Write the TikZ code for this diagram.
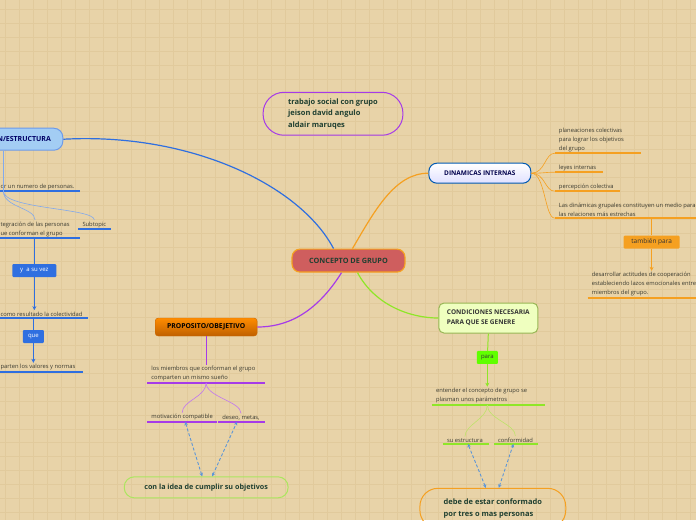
\documentclass[tikz,border=0pt]{standalone}
\usepackage{fontspec}
\setmainfont{Open Sans}
\usepackage{xcolor}
\definecolor{paper}{HTML}{E8D3A8}
\definecolor{gridc}{HTML}{E1CA9C}
\definecolor{ink}{HTML}{1F3F30}
\definecolor{leafink}{HTML}{3A3A30}
\definecolor{bluec}{HTML}{2F6FE0}
\definecolor{orgfill}{HTML}{A3CDF4}
\definecolor{orangec}{HTML}{F5A021}
\definecolor{greenc}{HTML}{8FE628}
\definecolor{bracegreen}{HTML}{BEE36A}
\definecolor{purplec}{HTML}{A63BE8}
\definecolor{dashc}{HTML}{5B95D8}
\definecolor{conceptc}{HTML}{CF5E5E}
\usetikzlibrary{arrows.meta, calc}

\begin{document}
\begin{tikzpicture}[x=1pt, y=-1pt]
    \tikzstyle{gridline}=[draw=gridc, line width=0.8pt]
    \tikzstyle{leaf}=[anchor=south west, align=left, inner xsep=4pt, inner ysep=1.5pt,
                      font=\fontsize{5.8}{9}\selectfont, text=leafink]
    \tikzstyle{pill}=[draw, line width=1pt, rounded corners=10pt, align=left,
                      font=\fontsize{7.5}{11.5}\selectfont\bfseries, text=ink]
    \tikzstyle{linkbox}=[rounded corners=1pt, inner sep=0pt, minimum height=13pt,
                         font=\fontsize{6}{7}\selectfont]
    \tikzstyle{arr}=[-{Stealth[length=4pt, width=4pt]}, line width=1pt]
    \tikzstyle{dashlink}=[{Stealth[length=3.5pt, width=3.5pt]}-{Stealth[length=3.5pt, width=3.5pt]},
                      dash pattern=on 3pt off 2pt, line width=0.9pt, draw=dashc]
    \tikzstyle{fan}=[line width=0.6pt]
    \tikzstyle{ul}=[line width=1.6pt]

    % background
    \fill[paper] (0,0) rectangle (696,520);
    \foreach \gx in {5,19,...,695} \draw[gridline] (\gx,0) -- (\gx,520);
    \foreach \gy in {9,23,...,519} \draw[gridline] (0,\gy) -- (696,\gy);
    \useasboundingbox (0,0) rectangle (696,520);

    % central topic
    \node[draw=orangec, fill=conceptc, line width=1.2pt, rounded corners=8pt,
          minimum width=113pt, minimum height=23pt, text=ink,
          font=\fontsize{7.3}{9}\selectfont\bfseries] (concept) at (348.5,260.5) {CONCEPTO DE GRUPO};

    \node[pill, draw=purplec, rounded corners=21pt, minimum width=140pt, minimum height=43pt,
          inner xsep=19pt] (note) at (333,113.5) {trabajo social con grupo\\jeison david angulo\\aldair maruqes};

    % left branch
    \node[draw=bluec!70, fill=orgfill, line width=1pt, rounded corners=9pt, anchor=east,
          minimum height=22pt, inner xsep=12pt, text=blue!40!black,
          font=\fontsize{7}{9}\selectfont\bfseries] (orgbox) at (63,139) {N/ESTRUCTURA};
    \draw[bluec, line width=1.2pt] (orgbox.east) .. controls (190,132) and (300,185) .. ($(concept.north)+(-15,0)$);

    \node[leaf] (l1) at (-4,191) {or un numero de personas.};
    \node[leaf] (l2) at (-4,238) {tegración de las personas\\ue conforman el grupo};
    \node[leaf] (l3) at (78,229) {Subtopic};
    \node[leaf] (l4) at (-4,318) {como resultado la colectividad};
    \node[leaf] (l5) at (-4,372) {parten los valores y normas};
    \draw[ul, bluec] (l1.south west) -- ++(84,0);
    \draw[ul, bluec] (l2.south west) -- ++(84,0);
    \draw[ul, bluec] (l3.south west) -- ++(33,0);
    \draw[ul, bluec] (l4.south west) -- ++(92,0);
    \draw[ul, bluec] (l5.south west) -- ++(87,0);
    \coordinate (lt) at (3,191);
    \draw[bluec!60, line width=1.5pt] (lt |- orgbox.south) -- (lt);
    \draw[fan, bluec!60] (lt) .. controls +(0,16) and +(0,-12) .. (l2.north);
    \draw[fan, bluec!60] (lt) .. controls +(0,18) and +(0,-12) .. (l3.north);

    \node[linkbox, fill=bluec, text=white, minimum width=44pt] (yv) at (34,270.5) {y~ a su vez};
    \draw[bluec, line width=1pt] (yv |- l2.south) -- (yv);
    \draw[arr, bluec] (yv) -- (yv |- l4.north);
    \node[linkbox, fill=bluec, text=white, minimum width=21pt] (qu) at (33,336.5) {que};
    \draw[bluec, line width=1pt] (qu |- l4.south) -- (qu);
    \draw[arr, bluec] (qu) -- (qu |- l5.north);

    % dinamicas internas
    \node[draw=blue!50!cyan!70!black, top color=white, bottom color=blue!12, line width=1pt,
          rounded corners=8pt, minimum width=102pt, minimum height=20pt, text=blue!30!black,
          font=\fontsize{6.5}{8}\selectfont\bfseries] (din) at (480,173) {DINAMICAS INTERNAS};
    \draw[orangec, line width=1.2pt] ($(concept.north)+(4,0)$) .. controls (375,210) and (395,173) .. (din.west);

    \node[leaf] (la) at (555,153) {planeaciones colectivas\\para lograr los objetivos\\del grupo};
    \node[leaf] (lb) at (555,172) {leyes internas};
    \node[leaf] (lc) at (555,191) {percepción colectiva};
    \node[leaf] (ld) at (555,218) {Las dinámicas grupales constituyen un medio para\\las relaciones más estrechas};
    \node[leaf] (le) at (588,298) {desarrollar actitudes de cooperación\\estableciendo lazos emocionales entre los\\miembros del grupo.};
    \draw[ul, orangec] (la.south west) -- ++(86,0);
    \draw[ul, orangec] (lb.south west) -- ++(48,0);
    \draw[ul, orangec] (lc.south west) -- ++(65,0);
    \draw[ul, orangec] (ld.south west) -- ++(150,0);
    \draw[ul, orangec] (le.south west) -- ++(120,0);
    \foreach \leafname in {la,lb,lc,ld}
        \draw[fan, orangec] (din.east) .. controls +(14,0) and +(-10,0) .. (\leafname.south west);

    \node[linkbox, fill=orangec, text=black!80, minimum width=56pt,
          font=\fontsize{6.5}{8}\selectfont] (tp) at (652,242) {también para};
    \draw[orangec, line width=1pt] (tp |- ld.south) -- (tp);
    \draw[arr, orangec] (tp) -- (tp |- le.north);

    % condiciones
    \node[draw=bracegreen!80!black, fill=lime!25!white, line width=1pt, rounded corners=5pt,
          minimum width=99pt, minimum height=30pt, align=left, text=black!80,
          font=\fontsize{6.5}{10}\selectfont\bfseries] (cond) at (488.5,318) {CONDICIONES NECESARIA\\PARA QUE SE GENERE};
    \draw[greenc, line width=1.2pt] ($(concept.south)+(9,0)$) .. controls (375,305) and (410,318) .. (cond.west);

    \node[leaf] (lf) at (432,405) {entender el concepto de grupo se\\plasman unos parámetros};
    \node[leaf] (lg) at (443,444) {su estructura};
    \node[leaf] (lh) at (494,444) {conformidad};
    \draw[ul, greenc] (lf.south west) -- ++(113,0);
    \draw[ul, greenc] (lg.south west) -- ++(46,0);
    \draw[ul, greenc] (lh.south west) -- ++(44,0);

    \node[linkbox, fill=green!50!lime, text=black!80, minimum width=21pt] (pa) at (487.5,357.5) {para};
    \draw[greenc, line width=1pt] (cond.south) -- (pa);
    \draw[arr, greenc] (pa) -- (pa |- lf.north);
    \draw[fan, bracegreen] (pa |- lf.south) .. controls +(0,14) and +(0,-12) .. (lg.north);
    \draw[fan, bracegreen] (pa |- lf.south) .. controls +(0,14) and +(0,-12) .. (lh.north);

    \node[pill, draw=orangec, rounded corners=18pt, anchor=north, minimum width=146pt,
          minimum height=40pt, inner xsep=18pt] (debe) at (493,488) {debe de estar conformado\\por tres o mas personas};
    \draw[dashlink] ($(debe.north)+(-7,0)$) -- ($(lg.south)+(3,0)$);
    \draw[dashlink] ($(debe.north)+(6,0)$) -- ($(lh.south)+(-2,0)$);

    % proposito
    \node[draw=orange!80!black, top color=orange!90!yellow, bottom color=orange!75!black,
          rounded corners=3pt, minimum width=102pt, minimum height=18pt, text=black,
          font=\fontsize{6.8}{8}\selectfont\bfseries] (prop) at (206,327) {PROPOSITO/OBEJETIVO};
    \draw[purplec, line width=1.2pt] ($(concept.south)+(-7,0)$) .. controls (315,315) and (285,327) .. (prop.east);

    \node[leaf] (li) at (147,383) {los miembros que conforman el grupo\\comparten un mismo sueño};
    \node[leaf] (lj) at (147,422) {motivación compatible};
    \node[leaf] (lk) at (218,422) {deseo, metas,};
    \draw[ul, purplec] (li.south west) -- ++(118,0);
    \draw[ul, purplec] (lj.south west) -- ++(70,0);
    \draw[ul, purplec] (lk.south west) -- ++(47,0);
    \draw[purplec, line width=1pt] (prop.south) -- (prop.south |- li.north);
    \draw[fan, purplec!70] (prop |- li.south) .. controls +(0,14) and +(0,-12) .. (lj.north);
    \draw[fan, purplec!70] (prop |- li.south) .. controls +(0,14) and +(0,-12) .. (lk.north);

    \node[pill, draw=bracegreen!90!green, minimum width=164pt, minimum height=21pt,
          font=\fontsize{7.2}{9}\selectfont\bfseries] (idea) at (206,487.5) {con la idea de cumplir su objetivos};
    \draw[dashlink] ($(idea.north)+(-4,0)$) -- ($(lj.south)+(3,0)$);
    \draw[dashlink] ($(idea.north)+(6,0)$) -- ($(lk.south)+(-4,0)$);
\end{tikzpicture}
\end{document}
